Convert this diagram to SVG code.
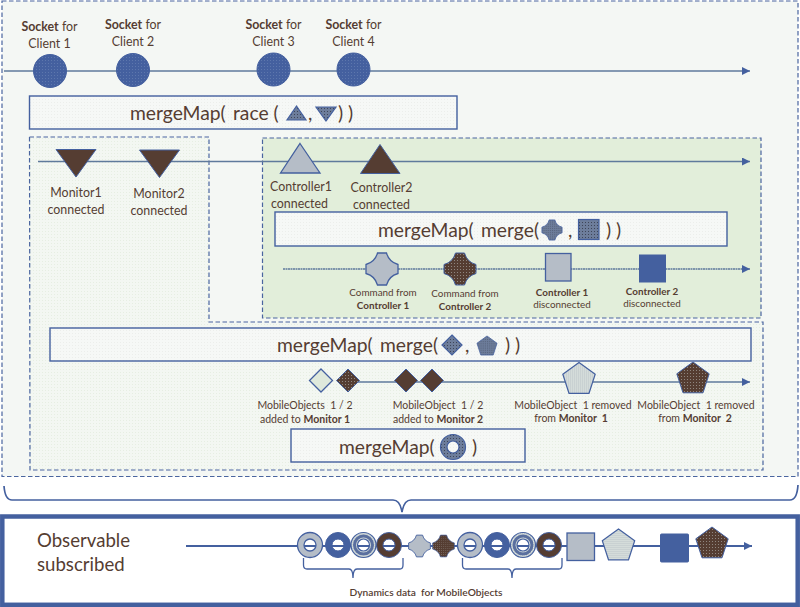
<svg xmlns="http://www.w3.org/2000/svg" width="800" height="607" viewBox="0 0 800 607">
<style>
text{font-family:"Lato","Carlito","Noto Sans",sans-serif;fill:#553d32;text-anchor:middle}
.s{font-size:12.4px}.xs{font-size:9.900px}.m{font-size:10.500px}.h{font-size:19.300px;text-anchor:start}.o{font-size:18.600px;text-anchor:start}
.b{font-weight:700}
.d{stroke:#4a659f;stroke-width:1.2;stroke-dasharray:4.500 2.500}
.box{stroke:#44609f;stroke-width:1.4}
.ln{fill:none;stroke:#5f7a9c;stroke-width:1.3}
.bl{fill:#44609f;stroke:#44609f}
.br{fill:#553d32;stroke:#44609f}
.gr{fill:#b5bdc7;stroke:#44609f;stroke-width:1.3}
.brd{fill:url(#brownDots);stroke:#44609f}
.bld{fill:url(#blueDots);stroke:#44609f}
.grd{fill:url(#grayDots);stroke:#44609f;stroke-width:1.2}
.lt{fill:#dfe9dc;stroke:#44609f;stroke-width:1.3}
.ic{fill:url(#iconDots);stroke:#44609f;stroke-width:1.2}
</style>
<defs>
<pattern id="panel" width="3" height="3" patternUnits="userSpaceOnUse"><rect width="3" height="3" fill="#f3f7f2"/><rect width="1" height="1" fill="#e6eee2"/></pattern>
<pattern id="boxDots" width="3" height="3" patternUnits="userSpaceOnUse"><rect width="3" height="3" fill="#f6f8f6"/><rect width="1" height="1" fill="#eceeeb"/></pattern>
<pattern id="blueDots" width="3" height="3" patternUnits="userSpaceOnUse"><rect width="3" height="3" fill="#44609f"/><rect width="1" height="1" fill="#5d77ad"/></pattern>
<pattern id="brownDots" width="3" height="3" patternUnits="userSpaceOnUse"><rect width="3" height="3" fill="#553d32"/><rect width="1" height="1" fill="#8f8680"/></pattern>
<pattern id="grayDots" width="2" height="2" patternUnits="userSpaceOnUse"><rect width="2" height="2" fill="#c9d1d2"/><rect width="1" height="1" fill="#dfe6e2"/></pattern>
<pattern id="iconDots" width="3" height="3" patternUnits="userSpaceOnUse"><rect width="3" height="3" fill="#6d7d9b"/><rect width="1" height="1" fill="#3e4558"/></pattern>
<marker id="arr" markerWidth="9" markerHeight="8" refX="8" refY="4" orient="auto" markerUnits="userSpaceOnUse"><path d="M0 0L8 4L0 8Z" fill="#44609f"/></marker>
<path id="cross" d="M-4.500-16H4.500Q7-7 16-4.500V4.500Q7 7 4.500 16H-4.500Q-7 7-16 4.500V-4.500Q-7-7-4.500-16Z"/>
<path id="pent" d="M0-17L16.200-5.200L10 13.800H-10L-16.200-5.200Z"/>
<path id="ring" fill-rule="evenodd" d="M-12.500 0A12.500 12.500 0 1 1 12.500 0A12.500 12.500 0 1 1-12.500 0ZM-6 0A6 6 0 1 0 6 0A6 6 0 1 0-6 0Z"/>
<path id="band" fill-rule="evenodd" d="M-10.500 0A10.500 10.500 0 1 1 10.500 0A10.500 10.500 0 1 1-10.500 0ZM-7.500 0A7.500 7.500 0 1 0 7.500 0A7.500 7.500 0 1 0-7.500 0Z"/>
</defs>

<g id="frames">
<rect x="2" y="1" width="796" height="475.500" fill="#f4f7f4" class="d"/>
<path d="M29.500 137H209V322H763V470H30Z" fill="url(#panel)" class="d"/>
<rect x="262.500" y="138" width="498.500" height="180" fill="#e2eeda" class="d"/>
<path d="M4 486Q5 500 12 500H393Q400 500 402 512Q404 500 411 500H790Q797 500 798 485" fill="none" stroke="#44609f" stroke-width="1.700"/>
<rect x="2.300" y="516.500" width="795.400" height="88.300" fill="#fff" stroke="#44609f" stroke-width="4.500"/>
</g>

<g id="connectors">
<path class="ln" d="M4 71H750" marker-end="url(#arr)"/>
<path class="ln" d="M38 161.500H750" marker-end="url(#arr)"/>
<path class="ln" d="M283 269H750" stroke-dasharray="2 .5" marker-end="url(#arr)"/>
<path class="ln" d="M340 382H750" marker-end="url(#arr)"/>
<path d="M186 546H752" fill="none" stroke="#44609f" stroke-width="1.800" marker-end="url(#arr)"/>
<path d="M303.500 558V565Q303.500 569 307 569H349Q353 569 353 578Q353 569 357 569H400Q403 569 403 565V558" fill="none" stroke="#44609f" stroke-width="1.300"/>
<path d="M462.500 558V565Q462.500 569 466 569H508Q512 569 512 578Q512 569 516 569H559Q562 569 562 565V558" fill="none" stroke="#44609f" stroke-width="1.300"/>
</g>

<g id="sockets">
<g id="socket1"><circle class="bld" cx="50" cy="71" r="16.500"/><text class="s" x="49.500" y="31"><tspan class="b">Socket</tspan> for</text><text class="s" x="49.500" y="48">Client 1</text></g>
<g id="socket2"><circle class="bld" cx="133" cy="70" r="16.500"/><text class="s" x="133" y="29"><tspan class="b">Socket</tspan> for</text><text class="s" x="133" y="46">Client 2</text></g>
<g id="socket3"><circle class="bld" cx="273.500" cy="69.500" r="16.500"/><text class="s" x="273.500" y="28.500"><tspan class="b">Socket</tspan> for</text><text class="s" x="273.500" y="46">Client 3</text></g>
<g id="socket4"><circle class="bld" cx="353.500" cy="69.500" r="16.500"/><text class="s" x="353.500" y="28.500"><tspan class="b">Socket</tspan> for</text><text class="s" x="353.500" y="46">Client 4</text></g>
</g>

<g id="box-race">
<rect class="box" x="29.500" y="96" width="427.500" height="33" fill="url(#boxDots)"/>
<text class="h" x="130" y="120">mergeMap(</text><text class="h" x="233" y="120">race (</text>
<path class="ic" d="M296.500 106L306 120H287Z"/><text class="h" x="308" y="120">,</text><path class="ic" d="M316 107H336L326 121Z"/><text class="h" x="338" y="120">) )</text>
</g>

<g id="monitor1"><path class="br" d="M56 149.500H96L76 177Z"/><text class="s" x="76" y="197">Monitor1</text><text class="s" x="76" y="214">connected</text></g>
<g id="monitor2"><path class="br" d="M139.500 150H179.500L159.500 177.500Z"/><text class="s" x="159" y="197.500">Monitor2</text><text class="s" x="159" y="215">connected</text></g>
<g id="controller1"><path class="gr" d="M300 143.500L320 173H280.500Z"/><text class="s" x="301" y="191">Controller1</text><text class="s" x="299.500" y="208">connected</text></g>
<g id="controller2"><path class="br" d="M380 144.500L400 173.500H360.500Z"/><text class="s" x="381.500" y="192">Controller2</text><text class="s" x="381.500" y="209">connected</text></g>

<g id="box-merge-commands">
<rect class="box" x="275" y="212" width="452" height="34" fill="url(#boxDots)"/>
<text class="h" x="378" y="237">mergeMap(</text><text class="h" x="481" y="237">merge(</text>
<use href="#cross" class="ic" transform="translate(552 230) scale(.63)"/><text class="h" x="568" y="237">,</text>
<rect class="ic" x="578.500" y="219.500" width="20.500" height="20"/><text class="h" x="606" y="237">) )</text>
</g>

<g id="cmd1"><use href="#cross" class="gr" transform="translate(382 269)"/><text class="xs" x="383" y="296">Command from</text><text class="xs b" x="383" y="309">Controller 1</text></g>
<g id="cmd2"><use href="#cross" class="brd" transform="translate(460 269)"/><text class="xs" x="465" y="296.500">Command from</text><text class="xs b" x="465" y="309.500">Controller 2</text></g>
<g id="ctrl1-off"><rect class="gr" x="545.500" y="253.500" width="25.500" height="27.500"/><text class="xs b" x="562" y="296">Controller 1</text><text class="xs" x="562" y="308">disconnected</text></g>
<g id="ctrl2-off"><rect class="bl" x="639.500" y="255" width="26" height="27"/><text class="xs b" x="652" y="295">Controller 2</text><text class="xs" x="652" y="307">disconnected</text></g>

<g id="box-merge-objects">
<rect class="box" x="50" y="328" width="701" height="33" fill="url(#boxDots)"/>
<text class="h" x="277" y="352">mergeMap(</text><text class="h" x="380" y="352">merge(</text>
<path class="ic" d="M452 335L462 345L452 355L442 345Z"/><text class="h" x="465" y="352">,</text>
<use href="#pent" class="ic" transform="translate(487 346.500) scale(.62)"/><text class="h" x="505" y="352">) )</text>
</g>

<g id="added1"><path class="lt" d="M321 369L332.500 380.500L321 392L309.500 380.500Z"/><path class="brd" d="M348 369L359.500 380.500L348 392L336.500 380.500Z"/><text class="m" x="305" y="409" xml:space="preserve">MobileObjects  1 / 2</text><text class="m" x="305" y="423">added to <tspan class="b">Monitor 1</tspan></text></g>
<g id="added2"><path class="br" d="M406 369L417.500 380.500L406 392L394.500 380.500Z"/><path class="br" d="M432 369L443.500 380.500L432 392L420.500 380.500Z"/><text class="m" x="438" y="409" xml:space="preserve">MobileObject  1 / 2</text><text class="m" x="438" y="423">added to <tspan class="b">Monitor 2</tspan></text></g>
<g id="removed1"><use href="#pent" class="grd" transform="translate(579 379.500)"/><text class="m" x="573" y="409" xml:space="preserve">MobileObject  1 removed</text><text class="m" x="571" y="422" xml:space="preserve">from <tspan class="b">Monitor  1</tspan></text></g>
<g id="removed2"><use href="#pent" class="brd" transform="translate(693 379)"/><text class="m" x="696" y="409" xml:space="preserve">MobileObject  1 removed</text><text class="m" x="695" y="422" xml:space="preserve">from <tspan class="b">Monitor  2</tspan></text></g>

<g id="box-ring">
<rect class="box" x="291" y="429" width="234" height="33" fill="url(#boxDots)"/>
<text class="h" x="339" y="454">mergeMap(</text>
<use href="#ring" class="ic" transform="translate(453 447)"/><text class="h" x="472" y="454">)</text>
</g>

<g id="result">
<text class="o" x="37" y="547">Observable</text><text class="o" x="37" y="571">subscribed</text>
<use href="#ring" class="gr" transform="translate(310 545)"/>
<use href="#ring" class="bl" transform="translate(338 545)"/>
<use href="#ring" class="grd" transform="translate(363.500 545)"/><use href="#band" fill="#5a6f9f" transform="translate(363.500 545)"/>
<use href="#ring" class="br" transform="translate(389 545)"/>
<use href="#cross" class="gr" transform="translate(419.500 546) scale(.68)"/>
<use href="#cross" class="brd" transform="translate(443.500 546) scale(.68)"/>
<use href="#ring" class="gr" transform="translate(470 545)"/>
<use href="#ring" class="bl" transform="translate(497 545)"/>
<use href="#ring" class="grd" transform="translate(523 545)"/><use href="#band" fill="#5a6f9f" transform="translate(523 545)"/>
<use href="#ring" class="br" transform="translate(549 545)"/>
<rect class="gr" x="567" y="533" width="27.500" height="27.500"/>
<use href="#pent" class="grd" transform="translate(618.500 546)"/>
<rect class="bl" x="660.500" y="534" width="28" height="28" rx="1"/>
<use href="#pent" class="brd" transform="translate(712 544)"/>
<text x="426" y="596" font-size="10.200" font-weight="600" xml:space="preserve">Dynamics data  for MobileObjects</text>
</g>
</svg>
